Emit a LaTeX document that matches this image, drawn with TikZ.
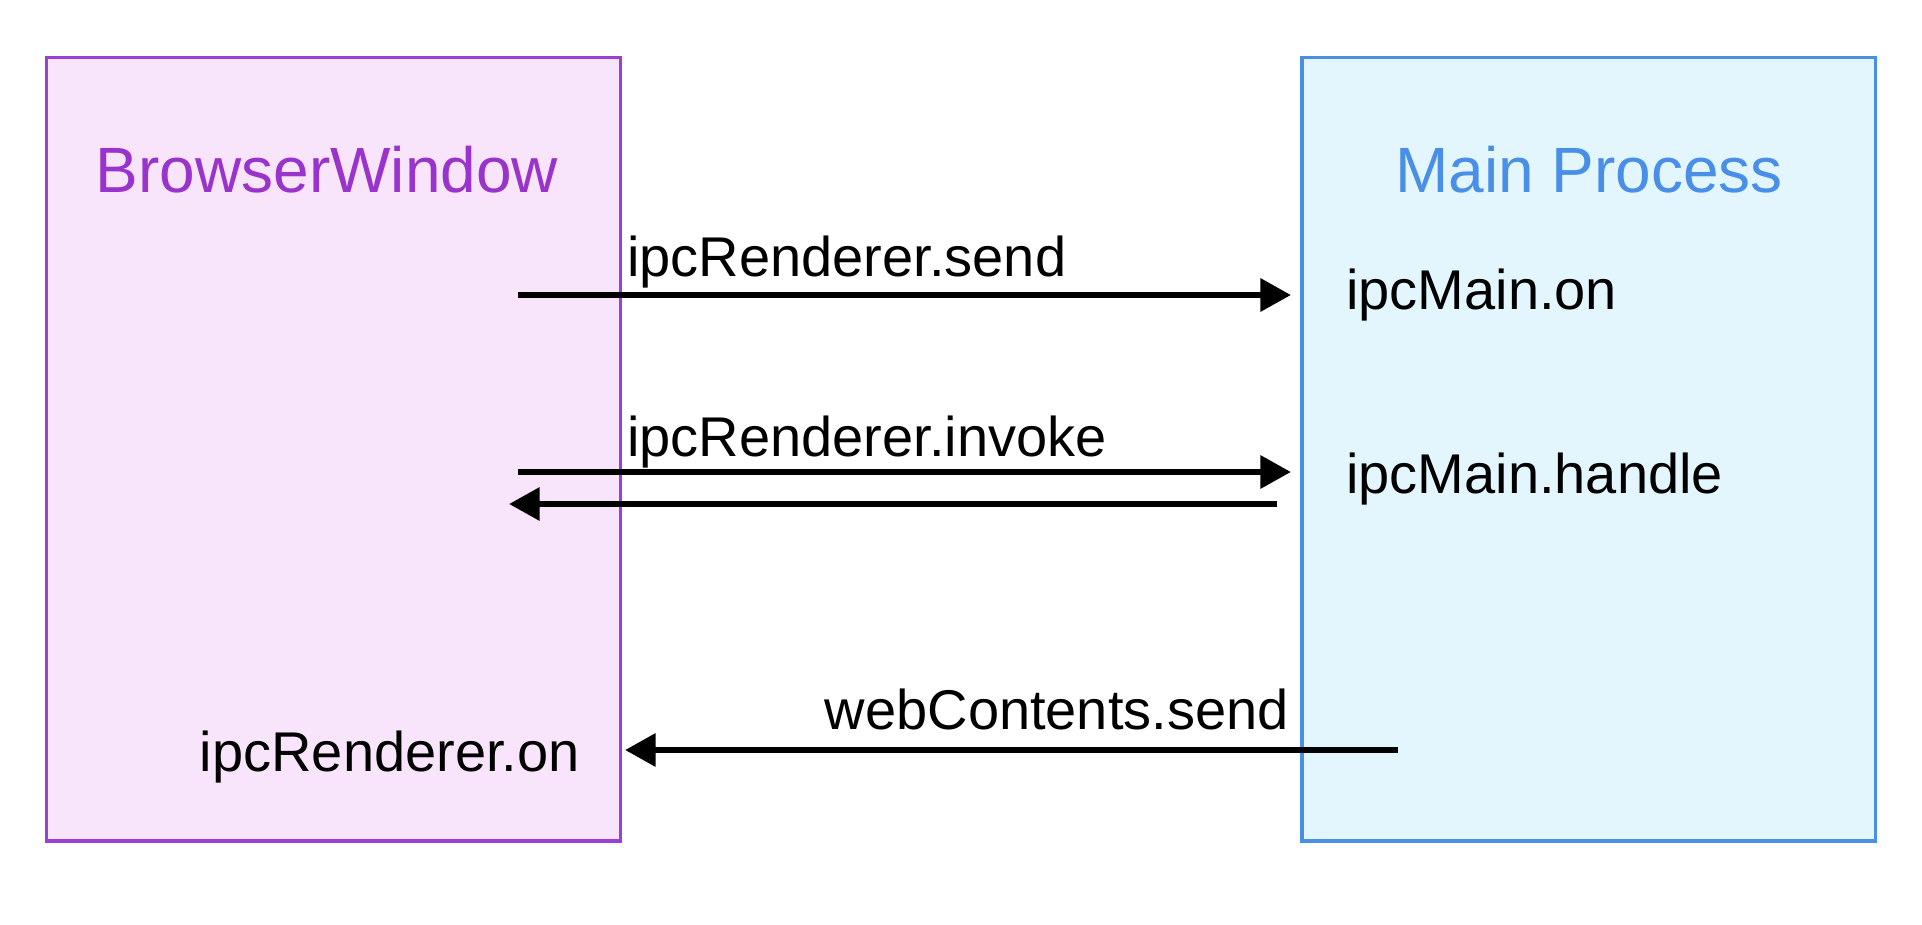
\documentclass[tikz,border=0pt]{standalone}
\usepackage{fontspec}
\setmainfont{Liberation Sans}
\usetikzlibrary{arrows.meta}
\definecolor{bwfill}{HTML}{F9E5FB}
\definecolor{bwline}{HTML}{9B40D2}
\definecolor{bwtext}{HTML}{9933CC}
\definecolor{mpfill}{HTML}{E3F6FD}
\definecolor{mpline}{HTML}{4A90E2}
\definecolor{mptext}{HTML}{4A8FE7}
\tikzset{
  box/.style={draw, line width=2.5pt, inner sep=0pt, rectangle},
  title/.style={font=\fontsize{48}{56}\selectfont, inner sep=0pt, anchor=base},
  lbl/.style={font=\fontsize{42}{50}\selectfont, inner sep=0pt, text=black},
  msg/.style={line width=4.9pt, -{Triangle[length=23pt,width=24pt]}}
}
\begin{document}
\begin{tikzpicture}[x=0.75pt,y=-0.75pt]
\useasboundingbox (0,0) rectangle (1922,924);
\fill[white] (0,0) rectangle (1922,924);
\node[box, draw=bwline, fill=bwfill, minimum width=430.3pt, minimum height=587.5pt] (bw) at (333.5,449.3) {};
\node[box, draw=mpline, fill=mpfill, minimum width=430.3pt, minimum height=587.5pt] (mp) at (1588.7,449.3) {};
\node[title, text=bwtext] (bwt) at (327,192.5) {BrowserWindow};
\node[title, text=mptext] (mpt) at (1589,192.5) {Main Process};
% labels
\node[lbl, anchor=base west] (send) at (627,276) {ipcRenderer.send};
\node[lbl, anchor=base west] (invoke) at (627,456) {ipcRenderer.invoke};
\node[lbl, anchor=base east] (wcs) at (1289,729) {webContents.send};
\node[lbl, anchor=base east] (ron) at (580,771) {ipcRenderer.on};
\node[lbl, anchor=base west] (mon) at (1346,309) {ipcMain.on};
\node[lbl, anchor=base west] (mh) at (1346,493) {ipcMain.handle};
% arrow ends
\coordinate (a1s) at (518,295);
\coordinate (a1e) at (1291,295);
\coordinate (a2s) at (518,472);
\coordinate (a2e) at (1291,472);
\coordinate (a3s) at (1277,504);
\coordinate (a3e) at (509,504);
\coordinate (a4s) at (1398,750);
\coordinate (a4e) at (625,750);
\draw[msg] (a1s) -- (a1e);
\draw[msg] (a2s) -- (a2e);
\draw[msg] (a3s) -- (a3e);
\draw[msg] (a4s) -- (a4e);
\end{tikzpicture}
\end{document}
